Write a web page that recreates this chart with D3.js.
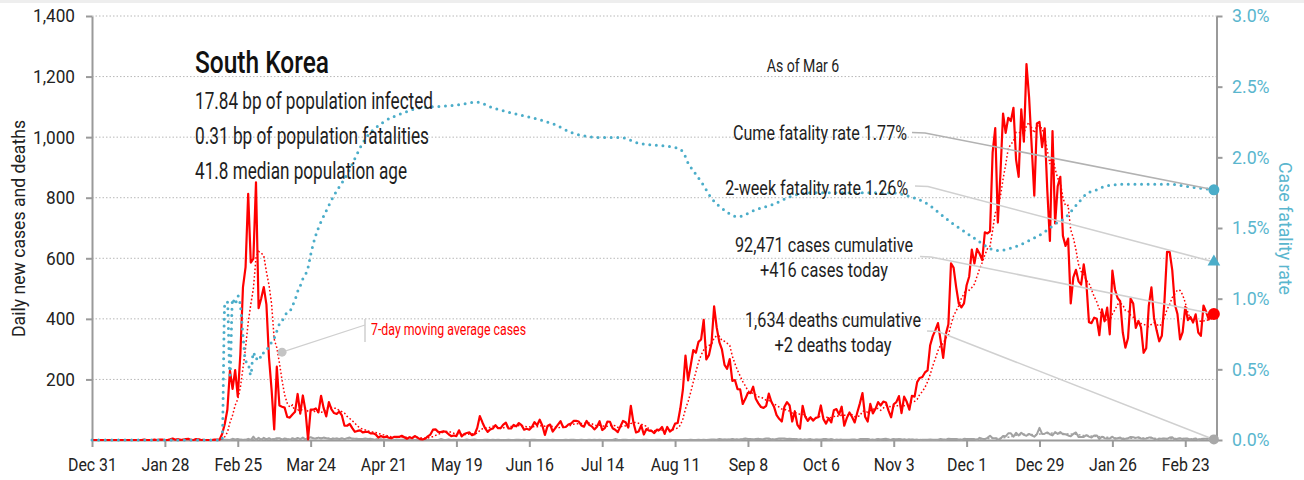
<!DOCTYPE html>
<html>
<head>
<meta charset="utf-8">
<script src="https://cdn.jsdelivr.net/npm/d3@7"></script>
<style>
  body { margin: 0; background: #fff; }
  svg text { font-family: Roboto, "Liberation Sans", sans-serif; }
</style>
</head>
<body>
<svg id="chart" width="1304" height="480"></svg>
<script>
// ---- data -------------------------------------------------------------
const firstDay = "2019-12-31";

// Daily new cases, one value per day from Dec 31 2019 (one row per month)
const dailyCases = [
  0,
  0,0,0,0,0,0,0,0,0,0, 0,0,0,0,0,0,0,0,0,1, 0,0,0,1,0,1,1,0,0,2, 5,
  1,3,0,1,3,4,0,0,3,2, 0,0,0,0,0,1,1,1,20,53, 100,229,169,231,144,284,505,571,813,
  586,599,851,435,467,505,448,272,165,35, 242,114,110,107,76,74,84,93,152,87, 147,98,2,100,100,104,91,146,105,78, 125,
  101,89,86,94,81,47,47,53,39,27, 30,32,25,27,27,22,22,18,8,13, 9,11,8,6,10,10,10,14,9,4,
  9,6,13,8,3,2,4,12,18,34, 35,27,26,29,27,19,13,15,13,32, 12,20,23,25,16,19,40,79,58,39, 27,
  35,38,49,39,39,51,57,38,38,50, 45,56,49,34,37,34,43,59,49,67, 48,17,46,51,28,39,51,62,42,43,
  51,54,63,63,61,48,44,63,50,45, 35,44,62,33,39,61,60,39,34,26, 45,63,59,41,113,58,25,28,48,18, 36,
  31,30,23,34,33,43,20,43,28,34, 54,56,103,166,279,197,246,297,288,324, 332,397,266,280,320,441,371,323,299,248, 235,
  267,195,198,168,167,119,136,156,155,176, 136,121,109,106,113,153,126,110,82,70, 61,110,125,114,61,95,50,38,113,77,
  63,75,64,73,75,114,69,54,72,58, 98,102,84,110,47,73,91,76,58,91, 121,155,77,61,119,88,103,125,114,127, 124,
  97,75,118,125,145,89,143,126,100,146, 143,191,205,208,223,230,313,343,363,386, 330,271,349,382,583,569,504,450,438,451,
  511,540,629,583,631,615,594,686,682,689, 950,1030,718,880,1078,1014,1064,1053,1097,926, 869,1092,985,1241,1132,970,807,1045,1050,967, 1029,
  824,657,1020,715,838,869,674,641,665,451, 537,562,524,513,580,520,389,386,404,400, 346,431,392,437,349,559,497,469,458,355, 305,
  336,467,451,370,393,372,288,303,444,504, 403,362,326,344,457,621,621,561,448,416, 332,356,440,396,406,388,415,355,
  344,444,424,398,418,416
];

// Daily new deaths, same days as dailyCases
const dailyDeaths = [
  0,
  0,0,0,0,0,0,0,0,0,0, 0,0,0,0,0,0,0,0,0,0, 0,0,0,0,0,0,0,0,0,0, 0,
  0,0,0,0,0,0,0,0,0,0, 0,0,0,0,0,0,0,0,0,1, 1,0,4,2,3,1,1,0,4,
  0,11,0,7,0,7,2,6,1,3, 6,6,1,5,3,0,6,3,7,3, 8,2,7,9,6,5,8,5,8,6, 4,
  3,4,5,3,6,3,6,8,4,4, 3,3,3,5,3,4,1,2,2,2, 1,1,2,0,0,2,1,1,2,1,
  1,2,0,2,2,1,1,0,0,0, 0,0,3,1,0,2,0,1,0,1, 0,0,2,0,1,2,0,0,0,1, 1,
  0,1,0,1,0,0,0,1,0,0, 1,1,0,1,0,0,1,1,0,0, 0,0,1,0,1,0,0,0,0,1,
  0,1,1,0,0,1,0,0,1,0, 1,0,1,0,0,0,0,0,3,1, 0,1,1,0,0,1,0,0,0,1, 1,
  0,0,0,1,1,0,0,0,1,0, 0,0,0,0,0,0,1,0,0,1, 0,1,0,1,2,2,1,3,2,2, 2,
  2,3,2,2,2,3,5,3,3,2, 3,4,2,3,5,5,2,2,3,5, 5,5,3,4,3,3,2,2,1,1,
  2,3,0,2,2,1,3,3,1,3, 0,1,1,1,1,1,1,2,2,0, 3,3,3,3,1,1,1,3,2,3, 4,
  2,1,3,2,3,2,2,1,2,2, 1,1,0,1,1,1,2,1,1,1, 3,2,1,4,3,3,3,2,0,4,
  3,3,3,3,0,7,4,3,7,14, 6,6,1,4,13,12,22,22,11,24, 15,24,17,14,20,15,11,19,40,20, 21,
  25,19,15,26,20,26,19,19,15,12, 20,25,10,10,10,16,11,8,15,15, 3,11,6,5,5,11,4,6,8,2, 4,
  5,10,9,7,9,5,4,5,8,8, 4,1,4,4,5,4,8,9,1,4, 6,3,5,4,2,3,5,0,
  3,4,4,5,5,2
];

// Cumulative case fatality rate (%)
const cfrDates = [
  "2019-12-31","2020-02-19","2020-02-20","2020-02-21","2020-02-22","2020-02-23","2020-02-24","2020-02-25",
  "2020-02-26","2020-02-27","2020-02-28","2020-02-29","2020-03-01","2020-03-02","2020-03-03","2020-03-04",
  "2020-03-05","2020-03-06","2020-03-07","2020-03-08","2020-03-09","2020-03-10","2020-03-11","2020-03-12",
  "2020-03-13","2020-03-14","2020-03-15","2020-03-16","2020-03-17","2020-03-18","2020-03-19","2020-03-20",
  "2020-03-21","2020-03-22","2020-03-23","2020-03-24","2020-03-31","2020-04-07","2020-04-14","2020-04-21",
  "2020-04-28","2020-05-05","2020-05-12","2020-05-19","2020-05-27","2020-06-02","2020-06-10","2020-06-17",
  "2020-06-26","2020-07-03","2020-07-14","2020-07-21","2020-07-28","2020-08-07","2020-08-11","2020-08-14",
  "2020-08-16","2020-08-19","2020-08-22","2020-08-25","2020-08-29","2020-09-01","2020-09-04","2020-09-11",
  "2020-09-18","2020-09-24","2020-10-02","2020-10-17","2020-11-02","2020-11-08","2020-11-15","2020-11-25",
  "2020-12-03","2020-12-13","2020-12-20","2020-12-27","2020-12-30","2021-01-05","2021-01-07","2021-01-13",
  "2021-01-16","2021-01-20","2021-01-24","2021-02-01","2021-02-17","2021-02-25","2021-03-06"
];
const cfrValues = [
  0, 0, 0.96, 0.98, 0.46, 1.0, 0.96, 1.02,
  0.95, 0.74, 0.56, 0.54, 0.46, 0.62, 0.57, 0.6,
  0.58, 0.62, 0.63, 0.67, 0.69, 0.72, 0.77, 0.82,
  0.84, 0.88, 0.9, 0.91, 0.95, 0.99, 1.05, 1.09,
  1.14, 1.17, 1.22, 1.31, 1.66, 1.88, 2.13, 2.25,
  2.31, 2.35, 2.36, 2.37, 2.39, 2.35, 2.31, 2.28,
  2.23, 2.17, 2.14, 2.14, 2.10, 2.08, 2.07, 2.04,
  1.96, 1.88, 1.80, 1.71, 1.64, 1.60, 1.58, 1.63,
  1.67, 1.72, 1.75, 1.75, 1.75, 1.73, 1.68, 1.54,
  1.44, 1.34, 1.37, 1.43, 1.46, 1.54, 1.56, 1.68,
  1.74, 1.77, 1.80, 1.81, 1.81, 1.79, 1.77
];

const twoWeekRate = 1.26;
const totalCases = 92471;
const totalDeaths = 1634;
const xTickDates = ["2019-12-31","2020-01-28","2020-02-25","2020-03-24","2020-04-21","2020-05-19","2020-06-16",
  "2020-07-14","2020-08-11","2020-09-08","2020-10-06","2020-11-03","2020-12-01","2020-12-29","2021-01-26","2021-02-23"];
const leftTicks = [200, 400, 600, 800, 1000, 1200, 1400];
const rightTicks = [0, 0.5, 1.0, 1.5, 2.0, 2.5, 3.0];

// ---- setup ------------------------------------------------------------
const parse = d3.timeParse("%Y-%m-%d");
const start = parse(firstDay);
const n = Math.min(dailyCases.length, dailyDeaths.length);
const days = d3.range(n).map(i => d3.timeDay.offset(start, i));
const lastDay = days[n - 1];

const movingAvg = arr => arr.map((v, i) => d3.mean(arr.slice(Math.max(0, i - 6), i + 1)));
const casesAvg = movingAvg(dailyCases.slice(0, n));
const deathsAvg = movingAvg(dailyDeaths.slice(0, n));

const svg = d3.select("#chart");
const plotLeft = 92, plotRight = 1216.5, plotTop = 16, plotBottom = 440;

const x = d3.scaleTime().domain([start, d3.timeDay.offset(lastDay, 1)]).range([plotLeft, plotRight]);
const yL = d3.scaleLinear().domain([0, 1400]).range([plotBottom, plotTop]);
const yR = d3.scaleLinear().domain([0, 3]).range([plotBottom, plotTop]);

const CYAN = "#4badc9", CYAN_TEXT = "#5ab6ce", RED = "#ff0000", GREY = "#a2a2a2", TEXT = "#1e1e1e";

// Narrow text: squeeze each label to a given width (the face is condensed)
function setWidth(sel, w) {
  sel.attr("textLength", w).attr("lengthAdjust", "spacingAndGlyphs");
}
function condense(sel, refNode, refWidth) {
  const k = refWidth / refNode.getComputedTextLength();
  sel.each(function () {
    d3.select(this).attr("textLength", this.getComputedTextLength() * k).attr("lengthAdjust", "spacingAndGlyphs");
  });
}

svg.append("rect").attr("x", 0).attr("y", 0).attr("width", 1304).attr("height", 3).attr("fill", "#eeeeee");

// gridlines
svg.append("g").selectAll("line").data(leftTicks).join("line")
  .attr("x1", plotLeft).attr("x2", plotRight)
  .attr("y1", d => yL(d)).attr("y2", d => yL(d))
  .attr("stroke", "#b8b8b8").attr("stroke-width", 1).attr("stroke-dasharray", "1.5,2");

// axes
const axisStyle = g => {
  g.select(".domain").attr("stroke", "#9a9a9a").attr("stroke-width", 2);
  g.selectAll(".tick line").attr("stroke", "#9a9a9a").attr("stroke-width", 2);
  g.selectAll(".tick text").attr("font-size", 18.7);
};

const xAxis = d3.axisBottom(x).tickValues(xTickDates.map(parse))
  .tickFormat(d3.timeFormat("%b %-d")).tickSize(7).tickSizeOuter(0).tickPadding(11);
const gx = svg.append("g").attr("transform", `translate(0,${plotBottom})`).call(xAxis).call(axisStyle);
gx.selectAll(".tick text").attr("fill", "#222");
condense(gx.selectAll(".tick text"), gx.select(".tick text").node(), 49);

const yAxisL = d3.axisLeft(yL).tickValues(leftTicks).tickFormat(d3.format(",")).tickSize(6).tickSizeOuter(0).tickPadding(11);
const gyl = svg.append("g").attr("transform", `translate(${plotLeft},0)`).call(yAxisL).call(axisStyle);
gyl.selectAll(".tick text").attr("fill", "#222");
condense(gyl.selectAll(".tick text"), gyl.selectAll(".tick text").nodes().pop(), 42);

const yAxisR = d3.axisRight(yR).tickValues(rightTicks).tickFormat(d => d3.format(".1f")(d) + "%")
  .tickSize(6).tickSizeOuter(0).tickPadding(9.5);
const gyr = svg.append("g").attr("transform", `translate(${plotRight},0)`).call(yAxisR).call(axisStyle);
gyr.selectAll(".tick text").attr("fill", CYAN_TEXT);
condense(gyr.selectAll(".tick text"), gyr.selectAll(".tick text").nodes().pop(), 37.6);

// axis titles
setWidth(svg.append("text").attr("transform", "translate(25,228.5) rotate(-90)")
  .attr("text-anchor", "middle").attr("font-size", 18.7).attr("fill", "#222")
  .text("Daily new cases and deaths"), 217);
setWidth(svg.append("text").attr("transform", "translate(1279,228.5) rotate(90)")
  .attr("text-anchor", "middle").attr("font-size", 18.7).attr("fill", CYAN_TEXT)
  .text("Case fatality rate"), 133);

// series
const lineL = d3.line().x((d, i) => x(days[i])).y(d => yL(d));

svg.append("path").datum(dailyDeaths.slice(0, n)).attr("d", lineL)
  .attr("fill", "none").attr("stroke", GREY).attr("stroke-width", 2).attr("stroke-linejoin", "round");
svg.append("path").datum(deathsAvg).attr("d", lineL)
  .attr("fill", "none").attr("stroke", GREY).attr("stroke-width", 1.5).attr("stroke-dasharray", "2,2");

svg.append("path").datum(casesAvg).attr("d", lineL)
  .attr("fill", "none").attr("stroke", RED).attr("stroke-width", 1.5).attr("stroke-dasharray", "1.6,2.2");
svg.append("path").datum(dailyCases.slice(0, n)).attr("d", lineL)
  .attr("fill", "none").attr("stroke", RED).attr("stroke-width", 2.2).attr("stroke-linejoin", "round");

const cfr = cfrDates.map((d, i) => ({ date: parse(d), v: cfrValues[i] }));
svg.append("path").datum(cfr)
  .attr("d", d3.line().x(d => x(d.date)).y(d => yR(d.v)).curve(d3.curveMonotoneX))
  .attr("fill", "none").attr("stroke", CYAN).attr("stroke-width", 3)
  .attr("stroke-linecap", "round").attr("stroke-dasharray", "0,6.6");

// title block
setWidth(svg.append("text").attr("x", 195).attr("y", 72.5).attr("font-size", 32).attr("font-weight", 500)
  .attr("fill", "#111").text("South Korea"), 134);
const facts = ["17.84 bp of population infected", "0.31 bp of population fatalities", "41.8 median population age"];
const factWidths = [238, 234, 212];
svg.append("g").selectAll("text").data(facts).join("text")
  .attr("x", 195).attr("y", (d, i) => 109 + i * 35)
  .attr("font-size", 23).attr("fill", TEXT).text(d => d)
  .attr("textLength", (d, i) => factWidths[i]).attr("lengthAdjust", "spacingAndGlyphs");

setWidth(svg.append("text").attr("x", 803).attr("y", 72).attr("text-anchor", "middle")
  .attr("font-size", 18).attr("fill", TEXT).text("As of Mar 6"), 72.6);

// end-of-series callouts
const xEnd = x(lastDay);
const lastCfr = cfrValues[cfrValues.length - 1];
const lastCases = dailyCases[n - 1];
const lastDeaths = dailyDeaths[n - 1];
const fmt = d3.format(",");

const callouts = [
  { lines: [`Cume fatality rate ${lastCfr.toFixed(2)}%`], widths: [174], cx: 820, y: 140,
    from: [912, 132.5], knee: 925, to: yR(lastCfr), color: "#b2b2b2" },
  { lines: [`2-week fatality rate ${twoWeekRate.toFixed(2)}%`], widths: [183], cx: 816.7, y: 195,
    from: [915, 186], knee: 928, to: yR(twoWeekRate), color: "#d0d0d0" },
  { lines: [`${fmt(totalCases)} cases cumulative`, `+${lastCases} cases today`], widths: [178, 128], cx: 824, y: 252,
    from: [920, 256.5], knee: 931, to: yL(lastCases), color: "#d0d0d0" },
  { lines: [`${fmt(totalDeaths)} deaths cumulative`, `+${lastDeaths} deaths today`], widths: [176, 117], cx: 833, y: 326.5,
    from: [927, 331], knee: 938, to: yL(lastDeaths), color: "#d0d0d0" }
];

callouts.forEach(c => {
  svg.append("path")
    .attr("d", d3.line()([c.from, [c.knee, c.from[1] + 0.5], [xEnd, c.to]]))
    .attr("fill", "none").attr("stroke", c.color).attr("stroke-width", 1.6);
  c.lines.forEach((t, i) => {
    setWidth(svg.append("text").attr("x", c.cx).attr("y", c.y + i * 25).attr("text-anchor", "middle")
      .attr("font-size", 21).attr("fill", TEXT).text(t), c.widths[i]);
  });
});

// markers
svg.append("circle").attr("cx", xEnd).attr("cy", yL(lastDeaths)).attr("r", 5).attr("fill", "#a8a8a8");
svg.append("circle").attr("cx", xEnd).attr("cy", yL(lastCases)).attr("r", 6).attr("fill", RED);
svg.append("path").attr("d", d3.symbol(d3.symbolTriangle, 70)())
  .attr("transform", `translate(${xEnd},${yR(twoWeekRate)})`).attr("fill", CYAN);
svg.append("circle").attr("cx", xEnd).attr("cy", yR(lastCfr)).attr("r", 5.5).attr("fill", CYAN);

// moving-average label
const labelDate = parse("2020-03-13");
const px = x(labelDate), py = yL(290);
svg.append("line").attr("x1", px).attr("y1", py).attr("x2", 365).attr("y2", 325)
  .attr("stroke", "#cfcfcf").attr("stroke-width", 1.2);
svg.append("line").attr("x1", 365).attr("y1", 319).attr("x2", 365).attr("y2", 342)
  .attr("stroke", "#cfcfcf").attr("stroke-width", 1.5);
svg.append("circle").attr("cx", px).attr("cy", py).attr("r", 4.5).attr("fill", "#c4c4c4");
setWidth(svg.append("text").attr("x", 371).attr("y", 335).attr("font-size", 16.4).attr("fill", RED)
  .text("7-day moving average cases"), 155);
</script>
</body>
</html>
